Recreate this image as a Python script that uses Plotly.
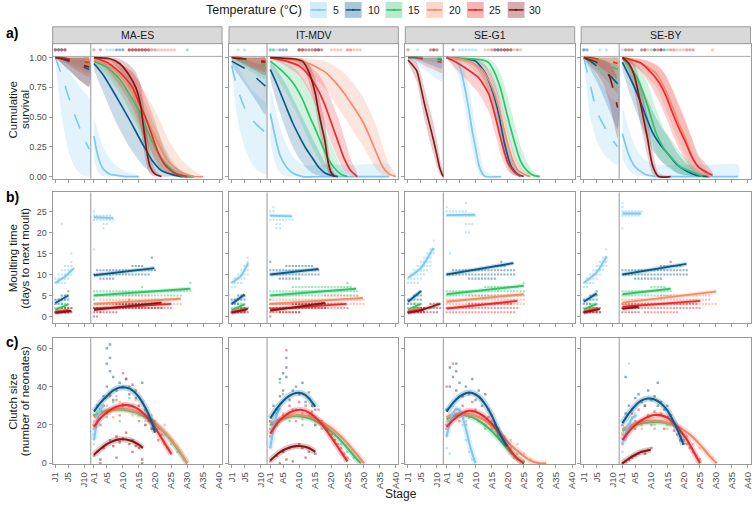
import plotly.graph_objects as go

W, H = 756, 505
POPS = ["MA-ES", "IT-MDV", "SE-G1", "SE-BY"]
TEMPS = [5, 10, 15, 20, 25, 30]
COLORS = {5: "#7DC8F2", 10: "#0B5C8B", 15: "#2EC46A", 20: "#F38A6B", 25: "#EC2A2E", 30: "#8A1518"}
TICK_VALS = [1, 5, 10, 13, 17, 22, 27, 32, 37, 42, 47, 52]
TICK_TEXT = ["J1", "J5", "J10", "A1", "A5", "A10", "A15", "A20", "A25", "A30", "A35", "A40"]
JUV_X = [1, 3, 5, 7, 9, 11.5]
ONES = [1, 1, 1, 1, 1, 1]

# ---------------- a) cumulative survival ----------------
# juvenile: temp -> (x, y, lo, hi)
SURV_JUV_MAES = {
    5: (JUV_X, [1.0, 0.85, 0.68, 0.52, 0.38, 0.23], [0.97, 0.5, 0.22, 0.08, 0.02, 0.0], [1.0, 0.97, 0.9, 0.82, 0.74, 0.66]),
    10: (JUV_X, [1.0, 0.99, 0.97, 0.95, 0.93, 0.9], [1.0, 0.95, 0.9, 0.85, 0.8, 0.75], [1.0, 1.0, 1.0, 0.99, 0.99, 0.98]),
    15: (JUV_X, [1.0, 1.0, 0.99, 0.98, 0.97, 0.95], [1.0, 0.98, 0.95, 0.92, 0.9, 0.87], ONES),
    20: (JUV_X, [1.0, 1.0, 0.99, 0.99, 0.98, 0.97], [1.0, 0.98, 0.96, 0.94, 0.92, 0.9], ONES),
    25: (JUV_X, [1.0, 1.0, 0.99, 0.98, 0.97, 0.96], [1.0, 0.97, 0.94, 0.9, 0.87, 0.84], ONES),
    30: (JUV_X, [1.0, 0.99, 0.98, 0.96, 0.94, 0.92], [1.0, 0.95, 0.9, 0.85, 0.8, 0.76], ONES),
}
SURV_JUV_ITMDV = {
    5: (JUV_X, [0.93, 0.72, 0.58, 0.49, 0.43, 0.37], [0.88, 0.45, 0.25, 0.12, 0.05, 0.02], [0.98, 0.92, 0.82, 0.74, 0.68, 0.62]),
    10: (JUV_X, [0.97, 0.94, 0.91, 0.87, 0.82, 0.76], [0.93, 0.86, 0.78, 0.7, 0.62, 0.52], [1.0, 0.99, 0.98, 0.97, 0.95, 0.93]),
    15: (JUV_X, [1.0, 0.99, 0.98, 0.97, 0.96, 0.94], [0.98, 0.95, 0.92, 0.88, 0.85, 0.82], ONES),
    20: (JUV_X, [1.0, 1.0, 0.99, 0.99, 0.98, 0.97], [1.0, 0.98, 0.96, 0.94, 0.92, 0.9], ONES),
    25: (JUV_X, [1.0, 1.0, 0.99, 0.98, 0.98, 0.97], [1.0, 0.97, 0.95, 0.92, 0.9, 0.88], ONES),
    30: (JUV_X, [1.0, 0.99, 0.99, 0.98, 0.97, 0.96], [1.0, 0.97, 0.94, 0.91, 0.88, 0.85], ONES),
}
SURV_JUV_SEG1 = {
    5: (JUV_X, [1.0, 0.99, 0.98, 0.97, 0.95, 0.93], [1.0, 0.96, 0.92, 0.88, 0.84, 0.8], ONES),
    10: (JUV_X, [1.0, 1.0, 1.0, 0.99, 0.99, 0.98], [1.0, 0.99, 0.97, 0.95, 0.93, 0.91], ONES),
    15: (JUV_X, [1.0, 1.0, 1.0, 1.0, 0.99, 0.99], [1.0, 0.99, 0.98, 0.97, 0.96, 0.95], ONES),
    25: (JUV_X, [1.0, 1.0, 0.99, 0.98, 0.97, 0.96], [1.0, 0.98, 0.95, 0.92, 0.9, 0.87], ONES),
    30: ([1, 2, 3.7, 5, 6.3, 7.5, 8.8, 10, 10.9, 11.9],
         [0.98, 0.95, 0.89, 0.75, 0.59, 0.46, 0.32, 0.18, 0.07, 0.0],
         [0.96, 0.9, 0.8, 0.63, 0.46, 0.33, 0.2, 0.08, 0.02, 0.0],
         [1.0, 0.99, 0.96, 0.86, 0.72, 0.6, 0.46, 0.3, 0.16, 0.04]),
}
SURV_JUV_SEBY = {
    5: (JUV_X, [1.0, 0.77, 0.55, 0.44, 0.34, 0.25], [0.97, 0.5, 0.3, 0.2, 0.14, 0.1], [1.0, 0.95, 0.85, 0.76, 0.68, 0.6]),
    10: (JUV_X, [1.0, 0.97, 0.93, 0.89, 0.85, 0.78], [1.0, 0.9, 0.8, 0.68, 0.55, 0.4], [1.0, 1.0, 0.99, 0.98, 0.96, 0.93]),
    15: (JUV_X, [1.0, 0.99, 0.97, 0.95, 0.93, 0.9], [1.0, 0.95, 0.9, 0.84, 0.78, 0.7], ONES),
    20: (JUV_X, [1.0, 1.0, 0.99, 0.98, 0.97, 0.96], [1.0, 0.97, 0.94, 0.9, 0.87, 0.84], ONES),
    25: (JUV_X, [1.0, 1.0, 0.99, 0.98, 0.97, 0.95], [1.0, 0.97, 0.94, 0.9, 0.86, 0.82], ONES),
    30: (JUV_X, [1.0, 0.98, 0.96, 0.92, 0.84, 0.58], [1.0, 0.93, 0.87, 0.78, 0.62, 0.32], [1.0, 1.0, 0.99, 0.98, 0.95, 0.82]),
}
SOLID_JUV = [("SE-G1", 30)]

# adult: temp -> (x, y, lo, hi)
SURV_AD_MAES = {
    5: ([13, 14, 15, 16, 18, 20, 23, 27], [0.34, 0.2, 0.11, 0.06, 0.02, 0.01, 0, 0],
        [0.15, 0.05, 0.01, 0, 0, 0, 0, 0], [0.5, 0.4, 0.31, 0.24, 0.15, 0.09, 0.04, 0.01]),
    10: ([13, 16, 20, 24, 28, 31, 34, 37, 40, 44], [0.95, 0.85, 0.67, 0.48, 0.28, 0.14, 0.05, 0.02, 0.0, 0.0],
         [0.9, 0.7, 0.45, 0.25, 0.1, 0.03, 0.0, 0, 0, 0], [0.99, 0.95, 0.85, 0.7, 0.5, 0.32, 0.17, 0.08, 0.03, 0.0]),
    15: ([13, 17, 21, 25, 28, 31, 34, 37, 40, 44], [0.97, 0.92, 0.82, 0.65, 0.5, 0.3, 0.15, 0.06, 0.01, 0],
         [0.94, 0.85, 0.7, 0.5, 0.33, 0.16, 0.05, 0.01, 0, 0], [1.0, 0.97, 0.92, 0.8, 0.67, 0.48, 0.3, 0.15, 0.05, 0.0]),
    20: ([13, 17, 21, 25, 29, 33, 36, 40, 44, 47], [0.98, 0.94, 0.85, 0.7, 0.5, 0.28, 0.13, 0.04, 0.0, 0],
         [0.95, 0.87, 0.73, 0.53, 0.3, 0.12, 0.04, 0.01, 0, 0], [1.0, 0.99, 0.95, 0.87, 0.7, 0.5, 0.32, 0.15, 0.05, 0.0]),
    25: ([13, 17, 20, 23, 25, 27, 29, 31, 33, 35, 38, 42], [1.0, 0.96, 0.9, 0.82, 0.75, 0.62, 0.5, 0.35, 0.2, 0.1, 0.03, 0],
         [0.98, 0.9, 0.8, 0.68, 0.58, 0.44, 0.32, 0.2, 0.09, 0.03, 0.0, 0],
         [1.0, 0.99, 0.96, 0.92, 0.88, 0.8, 0.68, 0.54, 0.38, 0.22, 0.08, 0.0]),
    30: ([13, 18, 21, 24, 26, 27.5, 28.5, 29.5, 30.5, 32, 34], [1.0, 0.99, 0.95, 0.85, 0.75, 0.6, 0.4, 0.2, 0.08, 0.02, 0.0],
         [1.0, 0.97, 0.9, 0.75, 0.6, 0.42, 0.22, 0.08, 0.02, 0, 0], [1.0, 1.0, 0.99, 0.94, 0.88, 0.77, 0.6, 0.38, 0.18, 0.06, 0.0]),
}
SURV_AD_ITMDV = {
    5: ([13, 14, 15, 16, 18, 20, 23, 30, 40, 50], [0.53, 0.4, 0.28, 0.18, 0.08, 0.03, 0.0, 0, 0, 0],
        [0.3, 0.17, 0.08, 0.03, 0.0, 0, 0, 0, 0, 0], [0.75, 0.64, 0.52, 0.42, 0.27, 0.17, 0.1, 0.1, 0.1, 0.1]),
    10: ([13, 15, 18, 20, 22, 24, 26, 28, 30, 32, 34], [0.9, 0.78, 0.58, 0.45, 0.34, 0.24, 0.16, 0.08, 0.03, 0.01, 0],
         [0.82, 0.62, 0.38, 0.25, 0.15, 0.08, 0.03, 0.01, 0, 0, 0], [0.96, 0.9, 0.77, 0.66, 0.55, 0.44, 0.33, 0.22, 0.12, 0.05, 0.01]),
    15: ([13, 17, 20, 23, 25, 27, 29, 31, 33, 35, 37], [0.97, 0.88, 0.79, 0.65, 0.52, 0.4, 0.27, 0.15, 0.07, 0.02, 0],
         [0.92, 0.75, 0.6, 0.43, 0.3, 0.2, 0.1, 0.04, 0.01, 0, 0], [1.0, 0.96, 0.92, 0.83, 0.74, 0.62, 0.48, 0.33, 0.2, 0.08, 0.02]),
    20: ([13, 20, 25, 30, 33, 36, 39, 42, 44, 46, 48, 50, 52],
         [1.0, 0.98, 0.95, 0.88, 0.8, 0.7, 0.58, 0.45, 0.33, 0.2, 0.08, 0.02, 0.0],
         [0.98, 0.94, 0.86, 0.74, 0.62, 0.5, 0.37, 0.25, 0.15, 0.06, 0.01, 0, 0],
         [1.0, 1.0, 0.99, 0.97, 0.93, 0.87, 0.78, 0.66, 0.55, 0.42, 0.25, 0.1, 0.03]),
    25: ([13, 18, 22, 25, 28, 30, 32, 34, 36, 38, 40], [1.0, 0.97, 0.93, 0.85, 0.72, 0.6, 0.45, 0.3, 0.15, 0.05, 0],
         [1.0, 0.93, 0.85, 0.72, 0.55, 0.42, 0.28, 0.15, 0.05, 0.01, 0], [1.0, 0.99, 0.98, 0.94, 0.86, 0.77, 0.64, 0.5, 0.33, 0.15, 0.03]),
    30: ([13, 20, 23, 25, 27, 28, 29, 30, 31, 32, 33], [1.0, 0.99, 0.97, 0.88, 0.7, 0.55, 0.42, 0.3, 0.12, 0.03, 0],
         [1.0, 0.98, 0.93, 0.8, 0.58, 0.42, 0.28, 0.15, 0.04, 0.0, 0], [1.0, 1.0, 0.99, 0.95, 0.82, 0.7, 0.57, 0.45, 0.25, 0.08, 0.01]),
}
SURV_AD_SEG1 = {
    5: ([13, 15, 17, 18, 19, 20, 21, 22, 23, 24, 25, 30], [1.0, 0.98, 0.93, 0.83, 0.7, 0.55, 0.38, 0.24, 0.1, 0.03, 0.0, 0],
        [1.0, 0.94, 0.82, 0.68, 0.52, 0.37, 0.22, 0.11, 0.03, 0.0, 0, 0],
        [1.0, 1.0, 0.98, 0.93, 0.85, 0.74, 0.58, 0.42, 0.26, 0.12, 0.04, 0.0]),
    10: ([13, 18, 22, 25, 27, 29, 31, 33, 35, 37], [1.0, 0.99, 0.97, 0.87, 0.74, 0.55, 0.28, 0.09, 0.02, 0],
         [1.0, 0.97, 0.92, 0.79, 0.62, 0.4, 0.16, 0.03, 0, 0], [1.0, 1.0, 0.99, 0.94, 0.85, 0.7, 0.42, 0.18, 0.05, 0.0]),
    15: ([13, 20, 24, 26, 28, 30, 32, 34, 36, 38, 40, 42], [1.0, 0.99, 0.98, 0.96, 0.87, 0.72, 0.5, 0.3, 0.13, 0.05, 0.01, 0],
         [1.0, 0.97, 0.94, 0.89, 0.76, 0.57, 0.34, 0.16, 0.05, 0.01, 0, 0],
         [1.0, 1.0, 1.0, 0.99, 0.95, 0.85, 0.67, 0.46, 0.26, 0.12, 0.04, 0.01]),
    20: ([13, 20, 24, 27, 29, 31, 33, 35, 37, 39], [1.0, 0.97, 0.9, 0.76, 0.6, 0.38, 0.18, 0.06, 0.02, 0],
         [1.0, 0.93, 0.82, 0.64, 0.46, 0.25, 0.09, 0.02, 0, 0], [1.0, 0.99, 0.96, 0.87, 0.74, 0.53, 0.3, 0.13, 0.05, 0.01]),
    25: ([13, 16, 19, 23, 26, 28, 30, 32, 34, 36], [1.0, 0.96, 0.91, 0.83, 0.7, 0.52, 0.3, 0.12, 0.04, 0],
         [1.0, 0.9, 0.82, 0.7, 0.55, 0.37, 0.17, 0.05, 0.01, 0], [1.0, 0.99, 0.97, 0.92, 0.83, 0.67, 0.45, 0.22, 0.09, 0.02]),
}
SURV_AD_SEBY = {
    5: ([13, 15, 17, 20, 24, 30, 40, 49], [0.36, 0.18, 0.08, 0.02, 0.0, 0, 0, 0],
        [0.15, 0.05, 0.01, 0, 0, 0, 0, 0], [0.6, 0.4, 0.25, 0.14, 0.1, 0.1, 0.1, 0.1]),
    10: ([13, 15, 17.4, 20, 22.4, 25, 27.5, 30, 32.6, 36, 40], [0.96, 0.85, 0.71, 0.53, 0.37, 0.26, 0.18, 0.1, 0.05, 0.01, 0],
         [0.9, 0.72, 0.54, 0.36, 0.22, 0.13, 0.08, 0.03, 0.01, 0, 0], [0.99, 0.94, 0.85, 0.7, 0.55, 0.42, 0.32, 0.2, 0.12, 0.04, 0.01]),
    15: ([13, 16, 18.3, 21, 23.4, 26, 28.5, 31, 34.6, 38], [0.99, 0.9, 0.79, 0.58, 0.37, 0.23, 0.15, 0.08, 0.04, 0],
         [0.95, 0.78, 0.62, 0.4, 0.2, 0.1, 0.05, 0.02, 0, 0], [1.0, 0.97, 0.92, 0.77, 0.57, 0.4, 0.3, 0.2, 0.1, 0.02]),
    20: ([13, 18, 23.4, 26, 28.5, 30.5, 32.6, 34.5, 36, 40], [1.0, 0.96, 0.87, 0.75, 0.59, 0.45, 0.32, 0.18, 0.1, 0],
         [1.0, 0.9, 0.76, 0.6, 0.43, 0.3, 0.18, 0.08, 0.03, 0], [1.0, 0.99, 0.95, 0.87, 0.74, 0.62, 0.48, 0.32, 0.2, 0.02]),
    25: ([13, 18.3, 21, 24.4, 26.5, 28.5, 30.5, 32.6, 34.5, 36.7, 41], [1.0, 0.96, 0.9, 0.79, 0.68, 0.54, 0.41, 0.29, 0.17, 0.08, 0.01],
         [0.99, 0.9, 0.8, 0.63, 0.5, 0.36, 0.24, 0.14, 0.06, 0.02, 0],
         [1.0, 0.99, 0.97, 0.92, 0.85, 0.73, 0.6, 0.46, 0.33, 0.18, 0.04]),
    30: ([13, 15, 16.8, 18.8, 20.8, 22.4, 24.2, 28], [1.0, 0.95, 0.84, 0.59, 0.32, 0.09, 0.0, 0],
         [1.0, 0.88, 0.7, 0.42, 0.17, 0.02, 0, 0], [1.0, 0.99, 0.94, 0.76, 0.5, 0.22, 0.03, 0]),
}
# stages of the dots in the band above 1.0
DOTS_MAES = {5: [1, 2, 3, 4, 13, 17, 18, 19], 10: [1, 2, 3, 4, 20, 21, 22, 30], 15: [42],
             20: [13, 33, 34, 35, 36, 37, 38], 25: [1, 2, 3, 4, 15, 24, 25, 26, 27, 28, 29, 30, 31, 32],
             30: [24, 25, 26, 27, 28, 29]}
DOTS_ITMDV = {5: [3, 5, 13, 14, 15], 10: [16, 17, 18, 28], 15: [13, 14], 20: [32, 33, 34, 35, 39, 40, 41],
              25: [22, 23, 27, 37, 38], 30: [22, 23, 24, 25, 26, 27, 28, 29]}
DOTS_SEG1 = {5: [4, 17, 18, 19, 20, 21, 22], 10: [28, 29], 15: [30, 33, 35], 20: [25, 26, 34, 35, 36],
             25: [1, 9, 27, 28, 31, 32], 30: [8, 9, 10, 15, 29, 30, 31, 32, 33]}
DOTS_SEBY = {5: [1, 6, 8, 13], 10: [1, 2, 25, 26], 15: [22, 23, 27], 20: [20, 21, 30, 31, 32, 41],
             25: [28, 29, 33, 34, 35], 30: [14, 15, 16, 19, 20, 23, 24, 25]}

# ---------------- b) moulting time ----------------
MOULT_LINES_MAES = {
    5: [([1, 4, 6.8], [8.0, 9.5, 11.5]), ([13, 19], [23.6, 23.4])],
    10: [([1, 5], [3.2, 5.0]), ([13, 31.8], [9.8, 11.5])],
    15: [([1, 5], [1.6, 2.9]), ([13, 43], [5.0, 6.6])],
    20: [([1, 5], [1.2, 1.6]), ([13, 40], [3.0, 4.2])],
    25: [([1, 5.5], [1.0, 1.4]), ([13, 37], [1.8, 3.0])],
    30: [([1, 6], [0.9, 1.3]), ([13, 34], [1.6, 3.3])],
}
MOULT_LINES_ITMDV = {
    5: [([1, 4, 6.1], [8.0, 9.8, 12.7]), ([13, 19.8], [24.0, 23.8])],
    10: [([1, 5], [3.0, 5.2]), ([13, 28], [10.0, 11.3])],
    15: [([1, 5], [1.5, 2.9]), ([13, 39.7], [5.0, 6.6])],
    20: [([1, 5], [1.2, 1.7]), ([13, 41.8], [3.0, 4.4])],
    25: [([1, 5.5], [1.0, 1.5]), ([13, 36.7], [1.7, 3.0])],
    30: [([1, 6], [0.9, 1.8]), ([13, 30], [1.4, 3.2])],
}
MOULT_LINES_SEG1 = {
    5: [([1, 5, 8.9], [9.2, 11.5, 16.3]), ([13, 21.8], [24.1, 24.2])],
    10: [([1, 5], [3.5, 6.0]), ([13, 33.8], [10.0, 12.7])],
    15: [([1, 5], [1.6, 3.0]), ([13, 37], [5.3, 7.3])],
    20: [([1, 5], [1.3, 2.0]), ([13, 37], [3.5, 5.3])],
    25: [([1, 6], [1.0, 1.6]), ([13, 35], [1.9, 3.7])],
    30: [([1, 5, 10.9], [0.9, 1.5, 3.0])],
}
MOULT_LINES_SEBY = {
    5: [([1, 5, 8.1], [8.0, 10.5, 14.3]), ([13, 18.8], [24.5, 24.5])],
    10: [([1, 5], [3.5, 5.5]), ([13, 32.9], [10.0, 12.5])],
    15: [([1, 5], [1.7, 3.0]), ([13, 28], [5.3, 6.6])],
    20: [([1, 5], [1.3, 1.9]), ([13, 42], [3.3, 5.9])],
    25: [([1, 5.5], [1.1, 1.7]), ([13, 37.2], [2.3, 3.7])],
    30: [([1, 6], [0.9, 1.8]), ([13, 18], [1.8, 2.3])],
}
# rows of observations: [days, first stage, last stage] (one dot per stage)
MOULT_ROWS_MAES = {
    5: [[8, 1, 4], [9, 1, 5], [10, 2, 6], [11, 3, 6], [12, 4, 6], [13, 6, 6], [15, 6, 6], [22, 3, 3],
        [23, 13, 19], [24, 13, 18], [25, 13, 13], [22, 16, 17], [21, 16, 16], [16, 13, 13]],
    10: [[3, 1, 3], [4, 1, 5], [5, 3, 5], [6, 5, 5], [10, 13, 30], [11, 14, 32], [9, 15, 19], [12, 25, 28], [14, 31, 31]],
    15: [[2, 1, 5], [3, 3, 5], [5, 13, 40], [6, 13, 43], [7, 28, 28], [8, 43, 43], [4, 13, 13]],
    20: [[1, 1, 5], [2, 2, 6], [3, 13, 40], [4, 15, 38], [5, 22, 30]],
    25: [[1, 1, 5], [2, 13, 37], [3, 14, 35], [1, 15, 15], [4, 24, 24]],
    30: [[1, 1, 6], [2, 3, 6], [1, 13, 20], [2, 13, 34], [3, 20, 32], [0, 13, 14]],
}
MOULT_ROWS_ITMDV = {
    5: [[7, 1, 2], [8, 1, 4], [9, 2, 5], [10, 3, 6], [11, 4, 6], [12, 5, 6], [13, 6, 6], [14, 6, 6],
        [24, 13, 19], [23, 13, 20], [25, 13, 14], [26, 14, 14], [22, 15, 16], [21, 15, 16]],
    10: [[3, 1, 3], [4, 1, 5], [5, 3, 5], [10, 13, 28], [11, 13, 28], [9, 16, 22], [12, 18, 26], [13, 13, 13]],
    15: [[2, 1, 5], [3, 3, 5], [5, 13, 40], [6, 13, 40], [7, 20, 38], [8, 37, 37], [4, 13, 13]],
    20: [[1, 1, 5], [2, 2, 5], [3, 13, 42], [4, 13, 42], [5, 30, 40]],
    25: [[1, 1, 5], [2, 13, 37], [3, 13, 35], [1, 16, 22]],
    30: [[1, 1, 6], [2, 3, 6], [1, 13, 22], [2, 13, 30], [3, 20, 30], [0, 13, 13]],
}
MOULT_ROWS_SEG1 = {
    5: [[8, 1, 4], [9, 1, 5], [10, 2, 6], [11, 3, 7], [12, 4, 8], [13, 5, 8], [14, 6, 8], [15, 7, 9], [16, 8, 9], [18, 9, 9],
        [24, 13, 22], [25, 13, 19], [26, 13, 13], [27, 19, 19], [22, 19, 21], [20, 19, 20], [15, 14, 14]],
    10: [[3, 1, 3], [4, 1, 5], [5, 3, 5], [6, 5, 5], [10, 13, 34], [11, 15, 34], [9, 20, 28], [12, 28, 31], [13, 30, 30]],
    15: [[2, 1, 5], [3, 3, 5], [5, 13, 37], [6, 13, 37], [7, 25, 35], [8, 37, 37]],
    20: [[1, 1, 5], [2, 2, 5], [3, 13, 37], [4, 13, 37], [5, 20, 35]],
    25: [[1, 1, 6], [2, 3, 6], [1, 13, 34], [2, 13, 35], [3, 20, 33]],
    30: [[1, 1, 10], [2, 3, 11], [3, 8, 11]],
}
MOULT_ROWS_SEBY = {
    5: [[7, 1, 2], [8, 1, 4], [9, 2, 5], [10, 3, 6], [11, 4, 7], [12, 5, 8], [13, 6, 8], [14, 7, 8], [16, 8, 8],
        [24, 13, 18], [25, 13, 19], [26, 13, 13], [27, 13, 13], [21, 13, 13]],
    10: [[3, 1, 3], [4, 1, 5], [5, 3, 5], [6, 5, 5], [10, 13, 33], [11, 13, 33], [9, 17, 25], [12, 25, 31], [13, 28, 28]],
    15: [[2, 1, 5], [3, 3, 5], [5, 13, 28], [6, 13, 28], [7, 22, 26]],
    20: [[1, 1, 5], [2, 2, 5], [3, 13, 42], [4, 13, 40], [5, 25, 40], [6, 42, 42]],
    25: [[1, 1, 6], [2, 13, 37], [3, 13, 36], [1, 20, 30]],
    30: [[1, 1, 6], [2, 3, 6], [1, 13, 18], [2, 13, 18]],
}

# ---------------- c) clutch size ----------------
CLUTCH_LINES_MAES = {
    10: ([13, 15, 17, 19, 21, 22, 23, 25, 27, 29, 31, 32], [27, 31.5, 35, 38, 39.5, 39.6, 39.5, 38, 34.5, 29, 21.5, 16]),
    25: ([13, 15, 17, 19, 21, 23, 25, 27, 29, 31, 33, 35, 37], [19, 23.5, 26.5, 28.8, 30, 30.4, 29.8, 28, 25, 21, 16, 10.5, 5]),
    20: ([13, 16, 19, 22, 25, 28, 31, 34, 37, 40, 42], [24, 26.5, 28, 28.5, 27.5, 25.5, 22.5, 18, 12.5, 5.5, 0]),
    15: ([13, 16, 19, 22, 25, 28, 31, 34, 37, 40, 42], [25, 27, 28, 28, 27, 25, 22, 17.5, 12, 5, 0]),
    5: ([13, 14, 15, 16], [12, 22, 28, 30]),
    30: ([13, 15, 17, 19, 21, 23, 25, 27, 28.2], [4.5, 7.5, 10, 11.7, 12.5, 12.4, 11.5, 9.6, 8]),
}
CLUTCH_LINES_ITMDV = {
    10: ([13, 15, 17, 19, 21, 23, 25, 27], [23.4, 28.5, 32.5, 35.3, 36.7, 36.4, 34, 29.5]),
    25: ([13, 15, 17, 19, 21, 23, 25, 27, 29, 31, 33, 35, 37], [15.5, 20.5, 24, 26.5, 27.7, 27.8, 26.5, 24, 20.5, 16, 11, 6, 1]),
    20: ([13, 16, 19, 22, 25, 28, 31, 34, 37, 40, 42.2], [21, 23, 24.8, 25.2, 24.5, 22.5, 19.5, 15.5, 10.5, 4.5, 0]),
    15: ([13, 16, 19, 22, 25, 28, 31, 34, 37, 40, 41.2], [20, 22.5, 24.3, 24.6, 23.5, 21.3, 18, 13.5, 8, 2, 0]),
    5: ([13, 14, 15, 16], [8, 18, 25, 29]),
    30: ([13, 15, 17, 19, 21, 23, 25, 27], [1.5, 4.5, 6.8, 8.3, 9, 8.9, 8, 6]),
}
CLUTCH_LINES_SEG1 = {
    10: ([13, 15, 17, 19, 20, 21, 23, 25, 27, 29, 31, 31.8], [27, 31.5, 34.8, 36.6, 36.9, 36.7, 34.8, 30.8, 25, 17.5, 11, 9]),
    25: ([13, 15, 17, 19, 20, 21, 23, 25, 27, 29, 31, 33, 35, 37], [19, 22.5, 25.2, 27, 27.4, 27.3, 26.2, 24, 20.7, 16.4, 11.5, 6.5, 2.5, 0]),
    20: ([13, 15, 17, 19, 21, 23, 25, 27, 29, 31, 33, 35, 37, 39, 41.9, 44],
         [24, 25.5, 26, 25.9, 25.2, 24, 22.2, 19.8, 16.8, 13.3, 9.5, 6.5, 3.8, 1.5, 0, 0]),
    15: ([13, 15, 17, 19, 21, 23, 25, 27, 29, 31, 33, 35, 37], [23, 24.5, 25.2, 25, 24, 22.3, 19.8, 16.8, 13.2, 9.5, 5.5, 2.5, 0]),
    5: ([13, 14, 15, 16, 17, 18, 19, 20, 21, 22], [14, 21, 26, 28.5, 27.5, 24, 18, 11, 5, 0]),
}
CLUTCH_LINES_SEBY = {
    10: ([13, 15, 17, 19, 21, 23, 25, 27, 29, 31, 32], [20.9, 26, 30, 32.8, 33.8, 33.3, 31.2, 27.5, 21.5, 14, 9.7]),
    25: ([13, 15, 17, 19, 21, 23, 25, 27, 29, 31, 33, 35, 37.1], [12.2, 16.5, 20, 22.5, 24.3, 25.2, 25, 23.8, 21, 17, 12.5, 6.5, 0]),
    20: ([13, 16, 19, 22, 25, 28, 31, 34, 37, 40, 42.3], [17.8, 20, 21.5, 22.3, 22, 20.8, 18.5, 15, 10, 4, 0]),
    15: ([13, 16, 19, 22, 25, 28], [17, 19.5, 21, 21.5, 21.5, 20.5]),
    5: ([13, 14, 15, 16, 17.3], [10.5, 15, 20, 23.5, 25.2]),
    30: ([13, 15, 17, 19, 21.8], [0, 2.5, 4.5, 6, 7.1]),
}
CLUTCH_PTS_MAES = {
    10: ([13, 14, 15, 16, 17, 17, 18, 18, 19, 19, 20, 21, 22, 22, 23, 24, 25, 26, 27, 28, 29, 30, 31, 17, 18],
         [25, 30, 28, 35, 40, 52, 55, 62, 45, 33, 38, 42, 40, 30, 44, 36, 41, 34, 30, 42, 28, 22, 18, 60, 48]),
    25: ([13, 14, 15, 16, 17, 18, 19, 20, 21, 22, 23, 24, 25, 26, 27, 28, 29, 30, 31, 32, 33, 34, 35, 36, 37, 22, 24],
         [18, 22, 20, 30, 26, 35, 28, 33, 25, 31, 44, 30, 27, 38, 22, 32, 20, 25, 18, 22, 12, 15, 10, 8, 5, 47, 40]),
    20: ([13, 15, 17, 19, 21, 23, 25, 27, 29, 31, 33, 35, 37, 39, 41, 20, 26],
         [22, 26, 30, 24, 32, 28, 25, 30, 22, 25, 18, 20, 12, 8, 3, 35, 33]),
    15: ([13, 15, 17, 19, 21, 23, 25, 27, 29, 31, 33, 35, 37, 39, 41, 18, 24],
         [20, 27, 24, 32, 22, 28, 30, 25, 20, 23, 18, 15, 10, 6, 2, 36, 34]),
    5: ([13, 13, 14, 15, 16, 17], [10, 15, 22, 28, 30, 34]),
    30: ([13, 14, 15, 16, 17, 18, 19, 20, 21, 22, 23, 24, 25, 26, 27, 28, 15, 20, 25, 28],
         [4, 6, 2, 8, 10, 12, 9, 14, 11, 13, 16, 10, 12, 9, 8, 2, 0, 3, 6, 0]),
}
CLUTCH_PTS_ITMDV = {
    10: ([13, 14, 15, 16, 17, 17, 18, 18, 19, 20, 21, 22, 23, 24, 25, 26, 27, 16, 18],
         [22, 30, 28, 35, 38, 47, 50, 55, 33, 38, 40, 36, 42, 32, 37, 30, 28, 44, 45]),
    25: ([13, 15, 17, 18, 19, 20, 21, 22, 23, 24, 25, 26, 27, 28, 29, 30, 31, 32, 33, 34, 35, 36, 37],
         [14, 20, 25, 59, 30, 28, 22, 32, 26, 30, 24, 27, 20, 28, 22, 20, 18, 15, 12, 10, 8, 5, 3]),
    20: ([13, 15, 17, 19, 21, 23, 25, 27, 29, 31, 33, 35, 37, 39, 41], [20, 22, 26, 24, 28, 23, 25, 20, 22, 18, 16, 14, 10, 6, 2]),
    15: ([13, 15, 16, 17, 19, 21, 23, 25, 27, 29, 31, 33, 35, 37, 39], [18, 26, 42, 36, 22, 28, 20, 24, 22, 18, 17, 12, 10, 6, 3]),
    5: ([13, 14, 15, 16], [8, 18, 26, 30]),
    30: ([13, 15, 17, 19, 21, 22, 23, 25, 27, 16, 18, 20, 24], [1, 4, 6, 8, 9, 10, 8, 6, 5, 0, 2, 1, 3]),
}
CLUTCH_PTS_SEG1 = {
    10: ([13, 14, 15, 16, 16, 17, 18, 19, 20, 21, 22, 23, 24, 25, 26, 27, 28, 29, 30, 31, 14, 16],
         [28, 40, 45, 48, 38, 42, 35, 40, 36, 44, 33, 38, 30, 36, 28, 25, 20, 18, 14, 10, 50, 52]),
    25: ([13, 14, 15, 16, 17, 18, 19, 20, 21, 22, 23, 24, 25, 26, 27, 28, 29, 30, 31, 32, 33, 34, 35, 13],
         [18, 25, 52, 28, 22, 30, 26, 24, 32, 28, 22, 25, 20, 24, 18, 20, 15, 12, 10, 8, 6, 3, 2, 40]),
    20: ([13, 15, 17, 19, 21, 23, 25, 27, 29, 31, 33, 35, 37, 39], [22, 25, 28, 22, 26, 24, 20, 22, 18, 14, 12, 10, 5, 2]),
    15: ([13, 15, 17, 19, 21, 23, 25, 27, 29, 31, 33, 35, 37], [20, 24, 26, 20, 25, 22, 18, 20, 14, 12, 8, 5, 1]),
    5: ([13, 14, 15, 16, 17, 18, 19, 20, 21, 13, 14], [14, 22, 30, 26, 28, 20, 12, 6, 2, 8, 5]),
}
CLUTCH_PTS_SEBY = {
    10: ([13, 14, 15, 16, 17, 18, 19, 20, 21, 22, 23, 24, 25, 26, 27, 28, 29, 30, 31, 32, 14, 24],
         [20, 26, 30, 28, 34, 36, 32, 30, 38, 33, 35, 30, 32, 28, 30, 25, 20, 18, 12, 10, 45, 42]),
    25: ([13, 14, 15, 16, 17, 18, 19, 20, 21, 22, 23, 24, 25, 26, 27, 28, 29, 30, 31, 32, 33, 34, 35, 36, 37],
         [10, 14, 20, 26, 18, 28, 22, 30, 25, 20, 27, 22, 26, 18, 24, 20, 17, 15, 14, 12, 10, 8, 6, 4, 2]),
    20: ([13, 15, 17, 19, 21, 23, 25, 27, 29, 31, 33, 35, 37, 39, 41], [16, 20, 22, 18, 24, 20, 22, 18, 20, 16, 14, 10, 8, 6, 3]),
    15: ([13, 15, 17, 19, 21, 23, 25, 27], [15, 18, 22, 20, 24, 18, 22, 20]),
    5: ([13, 14, 15, 16, 17, 15], [6, 12, 20, 24, 26, 52]),
    30: ([13, 14, 15, 16, 17, 18, 19, 20, 21, 22], [0, 1, 2, 3, 4, 5, 6, 5, 7, 8]),
}

SURV_JUV = {"MA-ES": SURV_JUV_MAES, "IT-MDV": SURV_JUV_ITMDV, "SE-G1": SURV_JUV_SEG1, "SE-BY": SURV_JUV_SEBY}
SURV_AD = {"MA-ES": SURV_AD_MAES, "IT-MDV": SURV_AD_ITMDV, "SE-G1": SURV_AD_SEG1, "SE-BY": SURV_AD_SEBY}
DOTS = {"MA-ES": DOTS_MAES, "IT-MDV": DOTS_ITMDV, "SE-G1": DOTS_SEG1, "SE-BY": DOTS_SEBY}
MOULT_LINES = {"MA-ES": MOULT_LINES_MAES, "IT-MDV": MOULT_LINES_ITMDV, "SE-G1": MOULT_LINES_SEG1, "SE-BY": MOULT_LINES_SEBY}
MOULT_ROWS = {"MA-ES": MOULT_ROWS_MAES, "IT-MDV": MOULT_ROWS_ITMDV, "SE-G1": MOULT_ROWS_SEG1, "SE-BY": MOULT_ROWS_SEBY}
CLUTCH_LINES = {"MA-ES": CLUTCH_LINES_MAES, "IT-MDV": CLUTCH_LINES_ITMDV, "SE-G1": CLUTCH_LINES_SEG1, "SE-BY": CLUTCH_LINES_SEBY}
CLUTCH_PTS = {"MA-ES": CLUTCH_PTS_MAES, "IT-MDV": CLUTCH_PTS_ITMDV, "SE-G1": CLUTCH_PTS_SEG1, "SE-BY": CLUTCH_PTS_SEBY}

# ---------------- layout geometry (pixels) ----------------
COL_L = [50, 227.5, 405, 582]
COL_W = 170.5
ROW_T = [44, 194, 341]
ROW_B = [180, 326, 468]
Y_RANGES = [[-0.017, 1.117], [-1.65, 29.5], [-0.5, 65.2]]
Y_TICKS = [([0, 0.25, 0.5, 0.75, 1.0], ["0.00", "0.25", "0.50", "0.75", "1.00"]),
           ([0, 5, 10, 15, 20, 25], ["0", "5", "10", "15", "20", "25"]),
           ([0, 20, 40, 60], ["0", "20", "40", "60"])]
FONT = "Liberation Sans, Arial, sans-serif"
GREY = "#9a9a9a"


def px(x):
    return x / W


def py(y):
    return 1 - y / H


def rgba(hexc, a):
    h = hexc.lstrip("#")
    return "rgba(%d,%d,%d,%.3f)" % (int(h[0:2], 16), int(h[2:4], 16), int(h[4:6], 16), a)


def axnames(r, c):
    k = r * 4 + c + 1
    return ("x" if k == 1 else "x%d" % k), ("y" if k == 1 else "y%d" % k), k


fig = go.Figure()
layout = dict(width=W, height=H, margin=dict(l=0, r=0, t=0, b=0), paper_bgcolor="white",
              plot_bgcolor="white", showlegend=False, font=dict(family=FONT, color="#1a1a1a"))
shapes = []
annotations = []

for r in range(3):
    for c in range(4):
        xa, ya, k = axnames(r, c)
        xkey = "xaxis" if k == 1 else "xaxis%d" % k
        ykey = "yaxis" if k == 1 else "yaxis%d" % k
        layout[xkey] = dict(domain=[px(COL_L[c]), px(COL_L[c] + COL_W)], anchor=ya, range=[0.17, 52.83],
                            tickvals=TICK_VALS, ticktext=TICK_TEXT, showticklabels=(r == 2), tickangle=-90,
                            ticks="outside", ticklen=3, tickcolor=GREY, tickwidth=1,
                            tickfont=dict(size=9.5, color="#4d4d4d"), showgrid=False, zeroline=False,
                            showline=True, mirror=True, linecolor=GREY, linewidth=1)
        layout[ykey] = dict(domain=[py(ROW_B[r]), py(ROW_T[r])], anchor=xa, range=Y_RANGES[r],
                            tickvals=Y_TICKS[r][0], ticktext=Y_TICKS[r][1], showticklabels=(c == 0),
                            ticks="outside", ticklen=3, tickcolor=GREY, tickwidth=1,
                            tickfont=dict(size=9, color="#4d4d4d"), showgrid=False, zeroline=False,
                            showline=True, mirror=True, linecolor=GREY, linewidth=1)
        # juvenile / adult separator
        shapes.append(dict(type="line", xref=xa, yref=ya + " domain", x0=12, x1=12, y0=0, y1=1,
                           line=dict(color="#a8a8a8", width=1.2), layer="below"))
        if r == 0:
            shapes.append(dict(type="line", xref=xa + " domain", yref=ya, x0=0, x1=1, y0=1.01, y1=1.01,
                               line=dict(color="#a8a8a8", width=1), layer="below"))


def band(xa, ya, x, lo, hi, color, alpha):
    fig.add_trace(go.Scatter(x=list(x) + list(x)[::-1], y=list(hi) + list(lo)[::-1], xaxis=xa, yaxis=ya,
                             fill="toself", fillcolor=rgba(color, alpha), mode="lines",
                             line=dict(width=0, shape="spline", smoothing=0.6), hoverinfo="skip"))


def line(xa, ya, x, y, color, width, dash="solid", opacity=1.0):
    fig.add_trace(go.Scatter(x=x, y=y, xaxis=xa, yaxis=ya, mode="lines", opacity=opacity,
                             line=dict(color=color, width=width, dash=dash, shape="spline", smoothing=0.6),
                             hoverinfo="skip"))


for c, pop in enumerate(POPS):
    # ---- a) survival
    xa, ya, _ = axnames(0, c)
    for seg in (SURV_JUV[pop], SURV_AD[pop]):
        for t in TEMPS:
            if t in seg:
                x, y, lo, hi = seg[t]
                band(xa, ya, x, lo, hi, COLORS[t], 0.22)
    for t in TEMPS:
        if t in SURV_JUV[pop]:
            x, y, lo, hi = SURV_JUV[pop][t]
            dash = "solid" if (pop, t) in SOLID_JUV else "longdash"
            line(xa, ya, x, y, COLORS[t], 1.6, dash)
    for t in TEMPS:
        if t in SURV_AD[pop]:
            x, y, lo, hi = SURV_AD[pop][t]
            line(xa, ya, x, y, COLORS[t], 1.7)
    for t in TEMPS:
        xs = DOTS[pop][t]
        fig.add_trace(go.Scatter(x=xs, y=[1.065] * len(xs), xaxis=xa, yaxis=ya, mode="markers",
                                 marker=dict(color=COLORS[t], size=3.3, opacity=0.45, line=dict(width=0)),
                                 hoverinfo="skip"))

    # ---- b) moulting time
    xa, ya, _ = axnames(1, c)
    for t in TEMPS:
        xs, ys = [], []
        for v, a, b in MOULT_ROWS[pop][t]:
            for s in range(a, b + 1):
                xs.append(s)
                ys.append(v)
        fig.add_trace(go.Scatter(x=xs, y=ys, xaxis=xa, yaxis=ya, mode="markers",
                                 marker=dict(color=COLORS[t], size=2.1, opacity=0.45, symbol="square",
                                             line=dict(width=0)), hoverinfo="skip"))
    for t in TEMPS:
        for x, y in MOULT_LINES[pop][t]:
            line(xa, ya, x, y, COLORS[t], 4.5, opacity=0.2)
            line(xa, ya, x, y, COLORS[t], 1.9)

    # ---- c) clutch size
    xa, ya, _ = axnames(2, c)
    for t in TEMPS:
        if t in CLUTCH_PTS[pop]:
            xs, ys = CLUTCH_PTS[pop][t]
            fig.add_trace(go.Scatter(x=xs, y=ys, xaxis=xa, yaxis=ya, mode="markers",
                                     marker=dict(color=COLORS[t], size=2.4, opacity=0.5, symbol="square",
                                                 line=dict(width=0)), hoverinfo="skip"))
    for t in [15, 20, 5, 30, 25, 10]:
        if t in CLUTCH_LINES[pop]:
            x, y = CLUTCH_LINES[pop][t]
            line(xa, ya, x, y, COLORS[t], 6, opacity=0.25)
            line(xa, ya, x, y, COLORS[t], 2.1)

    # strip
    shapes.append(dict(type="rect", xref="paper", yref="paper", x0=px(COL_L[c]), x1=px(COL_L[c] + COL_W),
                       y0=py(44), y1=py(27), fillcolor="#d9d9d9", line=dict(color=GREY, width=1)))
    annotations.append(dict(text=pop, xref="paper", yref="paper", x=px(COL_L[c] + COL_W / 2), y=py(35.5),
                            showarrow=False, font=dict(size=10.5, color="#1a1a1a"), xanchor="center",
                            yanchor="middle"))

# tags and titles
for tag, yy in (("a)", 33), ("b)", 199), ("c)", 345)):
    annotations.append(dict(text="<b>%s</b>" % tag, xref="paper", yref="paper", x=px(1), y=py(yy),
                            showarrow=False, xanchor="left", yanchor="middle", font=dict(size=14, color="black")))
Y_TITLES = [("Cumulative", "survival", 110), ("Moulting time", "(days to next moult)", 260),
            ("Clutch size", "(number of neonates)", 404.5)]
for l1, l2, yy in Y_TITLES:
    for txt, xx in ((l1, 10.5), (l2, 22)):
        annotations.append(dict(text=txt, xref="paper", yref="paper", x=px(xx), y=py(yy), showarrow=False,
                                textangle=-90, xanchor="center", yanchor="middle",
                                font=dict(size=11.5, color="#1a1a1a")))
annotations.append(dict(text="Stage", xref="paper", yref="paper", x=px(401), y=py(498), showarrow=False,
                        xanchor="center", yanchor="middle", font=dict(size=12, color="#1a1a1a")))

# legend (drawn manually)
annotations.append(dict(text="Temperature (°C)", xref="paper", yref="paper", x=px(303), y=py(10),
                        showarrow=False, xanchor="right", yanchor="middle", font=dict(size=12.5, color="#1a1a1a")))
KEY_L = [309, 344, 385, 426, 467, 508]
LAB_X = [335, 373, 414, 455, 495, 536]
for i, t in enumerate(TEMPS):
    x0 = KEY_L[i]
    shapes.append(dict(type="rect", xref="paper", yref="paper", x0=px(x0), x1=px(x0 + 17), y0=py(18), y1=py(2),
                       fillcolor=rgba(COLORS[t], 0.35), line=dict(width=0)))
    shapes.append(dict(type="line", xref="paper", yref="paper", x0=px(x0 + 1), x1=px(x0 + 16), y0=py(10), y1=py(10),
                       line=dict(color=COLORS[t], width=1.6)))
    shapes.append(dict(type="circle", xref="paper", yref="paper", x0=px(x0 + 7.3), x1=px(x0 + 9.7),
                       y0=py(11.2), y1=py(8.8), fillcolor=COLORS[t], line=dict(width=0)))
    annotations.append(dict(text=str(t), xref="paper", yref="paper", x=px(LAB_X[i]), y=py(10), showarrow=False,
                            xanchor="center", yanchor="middle", font=dict(size=10.5, color="#1a1a1a")))

layout["shapes"] = shapes
layout["annotations"] = annotations
fig.update_layout(**layout)
fig.write_html("out.html")
